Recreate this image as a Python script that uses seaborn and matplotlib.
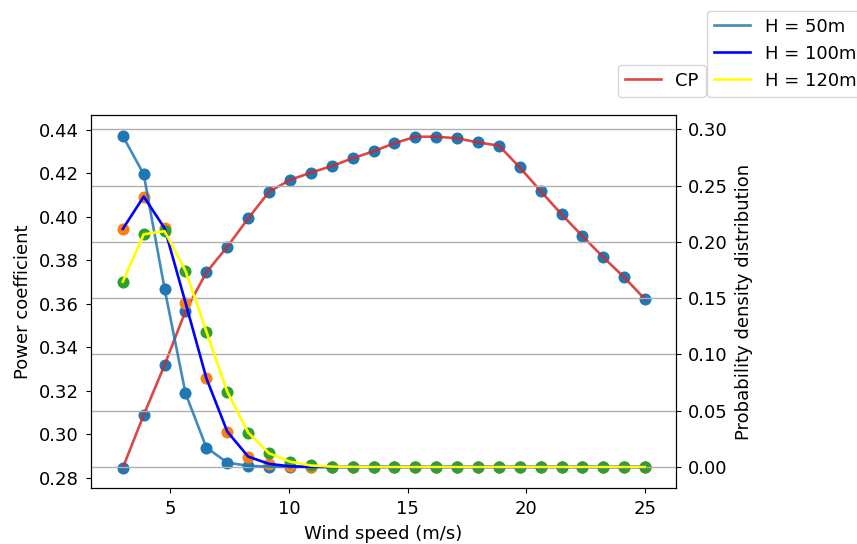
import matplotlib
matplotlib.use("Agg")
import matplotlib.pyplot as plt
import seaborn as sns

# wind speeds (m/s)
wind_speed = [3.0, 3.88, 4.76, 5.64, 6.52, 7.4, 8.28, 9.16, 10.04, 10.92, 11.8, 12.68, 13.56,
              14.44, 15.32, 16.2, 17.08, 17.96, 18.84, 19.72, 20.6, 21.48, 22.36, 23.24, 24.12, 25.0]

# power coefficient curve
cp = [0.2846, 0.3089, 0.3319, 0.3567, 0.3745, 0.3863, 0.3993, 0.4116, 0.4170, 0.4204, 0.4234,
      0.4270, 0.4302, 0.4339, 0.4369, 0.4369, 0.4362, 0.4343, 0.4328, 0.4228, 0.4119, 0.4012,
      0.3912, 0.3814, 0.3722, 0.3621]

# probability density for each hub height
pdf_50 = [0.2940, 0.2601, 0.1582, 0.0655, 0.0172, 0.0039, 0.0010, 0.0003, 0.0001, 0.0, 0.0,
          0.0, 0.0, 0.0, 0.0, 0.0, 0.0, 0.0, 0.0, 0.0, 0.0, 0.0, 0.0, 0.0, 0.0, 0.0]
pdf_100 = [0.2115, 0.2402, 0.2121, 0.1460, 0.0788, 0.0314, 0.0092, 0.0027, 0.0006, 0.0001, 0.0,
           0.0, 0.0, 0.0, 0.0, 0.0, 0.0, 0.0, 0.0, 0.0, 0.0, 0.0, 0.0, 0.0, 0.0, 0.0]
pdf_120 = [0.1647, 0.2067, 0.2095, 0.1742, 0.1203, 0.0669, 0.0305, 0.0121, 0.0047, 0.0013, 0.0003,
           0.0001, 0.0, 0.0, 0.0, 0.0, 0.0, 0.0, 0.0, 0.0, 0.0, 0.0, 0.0, 0.0, 0.0, 0.0]

heights = ["H = 50m", "H = 100m", "H = 120m"]
line_colors = ["#1f77b4", "blue", "yellow"]
dot_colors = ["#1f77b4", "#ff7f0e", "#2ca02c"]

FS = 13
plt.rcParams["font.family"] = ["DejaVu Sans"]
plt.rcParams["font.size"] = FS

fig = plt.figure(figsize=(8.57, 5.44), dpi=100)
ax1 = fig.add_axes([91 / 857, 1 - 488 / 544, (676 - 91) / 857, (488 - 115) / 544])
ax2 = ax1.twinx()

# left axis: power coefficient
sns.scatterplot(x=wind_speed, y=cp, ax=ax1, color="#1f77b4", s=75, linewidth=0, zorder=1)
sns.lineplot(x=wind_speed, y=cp, ax=ax1, color="#d62728", alpha=0.85, linewidth=1.9, label="CP")

# right axis: probability density
for pdf, name, lc, dc in zip([pdf_50, pdf_100, pdf_120], heights, line_colors, dot_colors):
    sns.scatterplot(x=wind_speed, y=pdf, ax=ax2, color=dc, s=75, linewidth=0, zorder=1)
    sns.lineplot(x=wind_speed, y=pdf, ax=ax2, color=lc, linewidth=1.9,
                 alpha=0.85 if lc == "#1f77b4" else 1.0, label=name)

ax1.set_xlim(1.66, 26.3)
ax1.set_ylim(0.2753, 0.4469)
ax2.set_ylim(-0.0187, 0.3127)
ax1.set_xticks([5, 10, 15, 20, 25])
ax1.set_yticks([0.28, 0.30, 0.32, 0.34, 0.36, 0.38, 0.40, 0.42, 0.44])
ax2.set_yticks([0.0, 0.05, 0.10, 0.15, 0.20, 0.25, 0.30])
ax2.grid(axis="y", color="#b0b0b0", linewidth=1.0)

ax1.set_xlabel("Wind speed (m/s)", fontsize=FS, labelpad=5)
ax1.set_ylabel("Power coefficient", fontsize=FS, labelpad=5)
ax2.set_ylabel("Probability density distribution", fontsize=FS, labelpad=5)
for ax in (ax1, ax2):
    ax.tick_params(labelsize=FS, length=3.6, pad=5)

ax1.legend(loc="lower right", bbox_to_anchor=(706 / 857, 1 - 97 / 544),
           bbox_transform=fig.transFigure, borderaxespad=0, fontsize=FS)
ax2.legend(loc="lower left", bbox_to_anchor=(707 / 857, 1 - 97 / 544),
           bbox_transform=fig.transFigure, borderaxespad=0, fontsize=FS)

fig.savefig("out.png", dpi=100)
